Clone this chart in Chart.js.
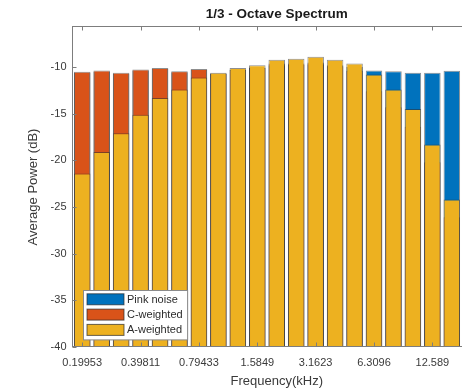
<!DOCTYPE html>
<html>
<head>
<meta charset="utf-8">
<script src="https://cdn.jsdelivr.net/npm/chart.js@4/dist/chart.umd.min.js"></script>
<style>
  html, body { margin: 0; padding: 0; background: #fff; overflow: hidden; }
  #wrap { width: 481px; height: 389px; }
</style>
</head>
<body>
<div id="wrap"><canvas id="spectrum" width="481" height="389"></canvas></div>
<script>
/* ========= DATA ========= */

// 1/3-octave band centres (kHz)
const bandLabels = [
  "0.19953", "0.25119", "0.31623", "0.39811", "0.50119", "0.63096", "0.79433",
  "1", "1.2589", "1.5849", "1.9953", "2.5119", "3.1623", "3.9811",
  "5.0119", "6.3096", "7.9433", "10", "12.589", "15.849", "19.953"
];

// only every third band gets a label
const tickLabels = ["0.19953", "0.39811", "0.79433", "1.5849", "3.1623", "6.3096", "12.589"];

const pinkNoise = [
  -10.6, -10.5, -10.75, -10.35, -10.2, -10.55, -10.3,
  -10.7, -10.25, -10.05, -9.8, -9.75, -9.7, -9.8,
  -10.0, -10.35, -10.45, -10.6, -10.6, -10.4, -10.5
];

const cWeighted = [
  -10.5, -10.35, -10.6, -10.25, -10.1, -10.45, -10.2,
  -10.7, -10.3, -10.1, -9.6, -9.6, -9.5, -9.9,
  -10.4, -12.6, -14.3, -16.4, -20.2, -26.1, -33.4
];

const aWeighted = [
  -21.4, -19.1, -17.1, -15.1, -13.3, -12.4, -11.1,
  -10.6, -10.1, -9.8, -9.2, -9.1, -8.9, -9.2,
  -9.6, -10.8, -12.4, -14.5, -18.3, -24.2, -31.5
];

const yMin = -40;
const yMax = -5.7;

/* ========= STYLE ========= */

const FONT = '"Liberation Sans", Arial, Helvetica, sans-serif';
const AXIS_COLOR = "#7d7d7d";
const TEXT_COLOR = "#3a3a3a";
const EDGE = "rgba(50,50,50,0.55)";

Chart.defaults.font.family = FONT;
Chart.defaults.color = TEXT_COLOR;

/* ========= PLUGINS ========= */

// box around the axes plus inward tick marks
const axesBox = {
  id: "axesBox",
  afterDatasetsDraw(chart) {
    const { ctx, chartArea: a, scales: { x, y } } = chart;
    const L = a.left, R = a.right, T = a.top - 0.5, B = a.bottom - 0.5;
    ctx.save();
    ctx.strokeStyle = AXIS_COLOR;
    ctx.lineWidth = 1;
    ctx.strokeRect(L, T, R - L, B - T);

    ctx.beginPath();
    bandLabels.forEach((lab, i) => {
      if (!tickLabels.includes(lab)) return;
      const raw = x.getPixelForValue(i);
      if (!Number.isFinite(raw)) return;
      const px = Math.round(raw) + 0.5;
      ctx.moveTo(px, B); ctx.lineTo(px, B - 4);
      ctx.moveTo(px, T); ctx.lineTo(px, T + 4);
    });
    y.ticks.forEach(t => {
      if (t.value % 5 !== 0) return;
      const py = Math.round(y.getPixelForValue(t.value)) + 0.5;
      ctx.moveTo(L, py); ctx.lineTo(L + 4, py);
      ctx.moveTo(R, py); ctx.lineTo(R - 4, py);
    });
    ctx.stroke();
    ctx.restore();
  }
};

// legend box in the lower-left corner of the axes
const cornerLegend = {
  id: "cornerLegend",
  afterDraw(chart) {
    const { ctx, chartArea: a } = chart;
    const sets = chart.data.datasets;
    ctx.save();
    ctx.font = "11px " + FONT;
    const textW = Math.max(...sets.map(d => ctx.measureText(d.label).width));
    const rowH = 15.3;
    const w = 3.5 + 37 + 3 + textW + 5;
    const h = 8.8 + rowH * (sets.length - 1) + 10;
    const x0 = Math.round(a.left + 10) + 0.5;
    const y0 = Math.round(a.bottom - 8 - h) + 0.5;

    ctx.fillStyle = "#fff";
    ctx.fillRect(x0, y0, w, h);
    ctx.strokeStyle = "#8a8a8a";
    ctx.lineWidth = 1;
    ctx.strokeRect(x0, y0, w, h);

    ctx.textBaseline = "middle";
    ctx.textAlign = "left";
    sets.forEach((d, i) => {
      const cy = y0 + 8.8 + i * rowH;
      ctx.fillStyle = d.backgroundColor;
      ctx.fillRect(x0 + 3.5, cy - 5.5, 37, 11);
      ctx.strokeStyle = "rgba(40,40,40,0.7)";
      ctx.strokeRect(x0 + 3.5, cy - 5.5, 37, 11);
      ctx.fillStyle = "#2b2b2b";
      ctx.fillText(d.label, x0 + 3.5 + 37 + 3, cy + 0.5);
    });
    ctx.restore();
  }
};

/* ========= CHART ========= */

function barSet(label, data, color, order) {
  return {
    label,
    data,
    order,
    base: yMin,
    grouped: false,
    backgroundColor: color,
    borderColor: EDGE,
    borderWidth: 1,
    barPercentage: 0.85,
    categoryPercentage: 1.0
  };
}

new Chart(document.getElementById("spectrum"), {
  type: "bar",
  data: {
    labels: bandLabels,
    datasets: [
      barSet("Pink noise", pinkNoise, "#0072BD", 3),
      barSet("C-weighted", cWeighted, "#D95319", 2),
      barSet("A-weighted", aWeighted, "#EDB120", 1)
    ]
  },
  options: {
    responsive: false,
    animation: false,
    layout: { padding: 0 },
    plugins: {
      legend: { display: false },
      tooltip: { enabled: false },
      title: {
        display: true,
        fullSize: false,
        text: "1/3 - Octave Spectrum",
        color: "#1a1a1a",
        font: { size: 13.5, weight: "bold", lineHeight: 1.2 },
        padding: { top: 6.5, bottom: 4.3 }
      }
    },
    scales: {
      x: {
        grid: { display: false, drawTicks: false },
        border: { display: false },
        ticks: {
          autoSkip: false,
          maxRotation: 0,
          padding: 9,
          font: { size: 11 },
          callback(value, index) {
            const lab = bandLabels[index];
            return tickLabels.includes(lab) ? lab : null;
          }
        },
        title: {
          display: true,
          text: "Frequency(kHz)",
          font: { size: 13 },
          padding: { top: 0, bottom: 0 }
        },
        afterFit(scale) { scale.height = 42; }
      },
      y: {
        min: yMin,
        max: yMax,
        grid: { display: false, drawTicks: false },
        border: { display: false },
        ticks: {
          stepSize: 5,
          includeBounds: false,
          padding: 6,
          font: { size: 11 },
          callback: v => (v % 5 === 0 ? String(v) : null)
        },
        title: {
          display: true,
          text: "Average Power (dB)",
          font: { size: 13 },
          padding: { top: 26, bottom: 0 }
        },
        afterFit(scale) { scale.width = 72.5; }
      }
    }
  },
  plugins: [axesBox, cornerLegend]
});
</script>
</body>
</html>
